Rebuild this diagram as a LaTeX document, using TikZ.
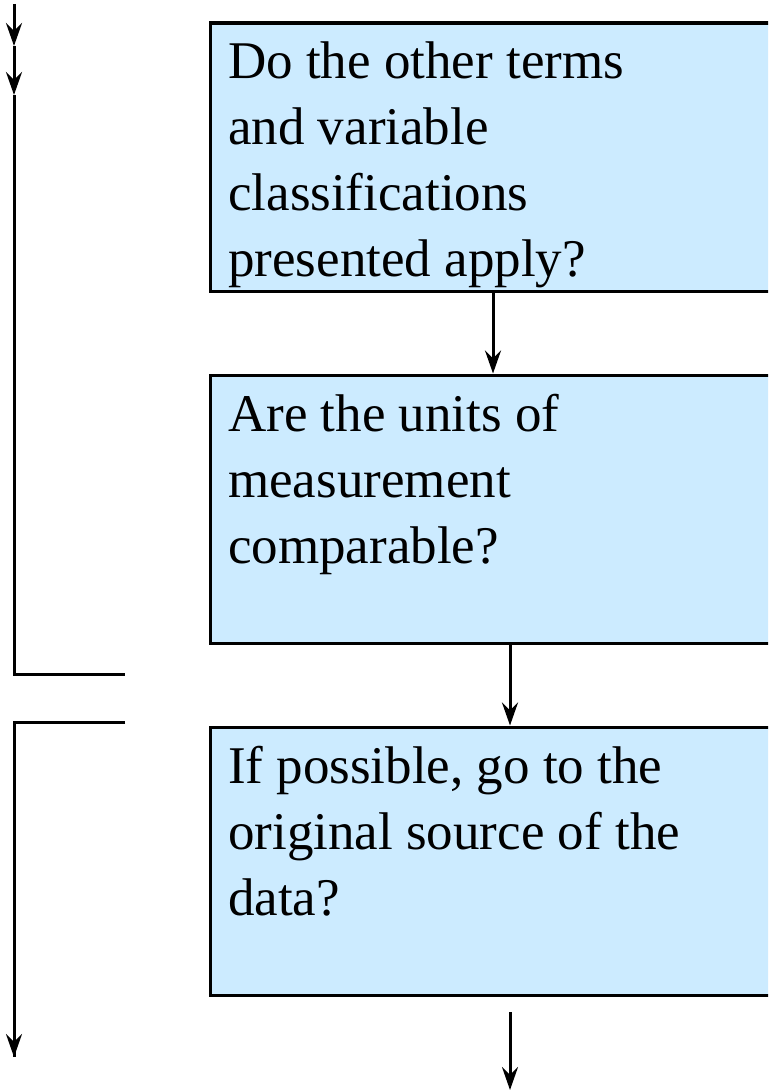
\documentclass[tikz,border=0pt]{standalone}
\usepackage{fontspec}
\setmainfont{Liberation Serif}
\usetikzlibrary{arrows.meta,calc}
\definecolor{boxblue}{RGB}{204,235,255}
\tikzset{
  stepbox/.style={draw=black, line width=3.2pt, fill=boxblue, rectangle,
    minimum width=580pt, minimum height=268pt, inner sep=0pt, anchor=north west},
  boxtext/.style={anchor=north west, align=left, inner sep=0pt,
    font=\fontsize{53}{66}\selectfont},
  flow/.style={line width=3pt, -{Stealth[length=23pt,width=16pt,inset=8pt]}},
  rail/.style={line width=3pt},
}
\begin{document}
\begin{tikzpicture}[x=1pt,y=-1pt]
  \clip (0,0) rectangle (768,1091);
  \fill[white] (0,0) rectangle (768,1091);

  % question boxes
  \node[stepbox] (b1) at (208.5,21.5) {};
  \node[stepbox] (b2) at (208.5,373.5) {};
  \node[stepbox] (b3) at (208.5,725.5) {};

  \node[boxtext] (t1) at ($(b1.north west)+(19.5,20.3)$)
    {Do the other terms\\and variable\\classifications\\presented apply?};
  \node[boxtext] (t2) at ($(b2.north west)+(19.5,20.3)$)
    {Are the units of\\measurement\\comparable?};
  \node[boxtext] (t3) at ($(b3.north west)+(19.5,20.3)$)
    {If possible, go to the\\original source of the\\data?};

  % arrows between boxes
  \coordinate (x1) at (493,0);
  \coordinate (x2) at (510,0);
  \draw[flow] (b1.south -| x1) -- (b2.north -| x1);
  \draw[flow] (b2.south -| x2) -- (b3.north -| x2);
  \coordinate (out1) at (510,1012);
  \coordinate (out2) at (510,1090);
  \draw[flow] (out1) -- (out2);

  % left-hand rail, upper part
  \coordinate (r0) at (14,4);
  \coordinate (r1) at (14,46);
  \coordinate (r2) at (14,95);
  \coordinate (r3) at (14,674);
  \coordinate (r4) at (125,674);
  \draw[flow] (r0) -- (r1);
  \draw[flow] (r1) -- (r2);
  \draw[rail] (r2) -- (r3) -- (r4);

  % left-hand rail, lower part
  \coordinate (s0) at (125,722);
  \coordinate (s1) at (14,722);
  \coordinate (s2) at (14,1057);
  \draw[rail] (s0) -- (s1) -- (s2);
  \draw[flow] (s1) -- (s2);
\end{tikzpicture}
\end{document}
